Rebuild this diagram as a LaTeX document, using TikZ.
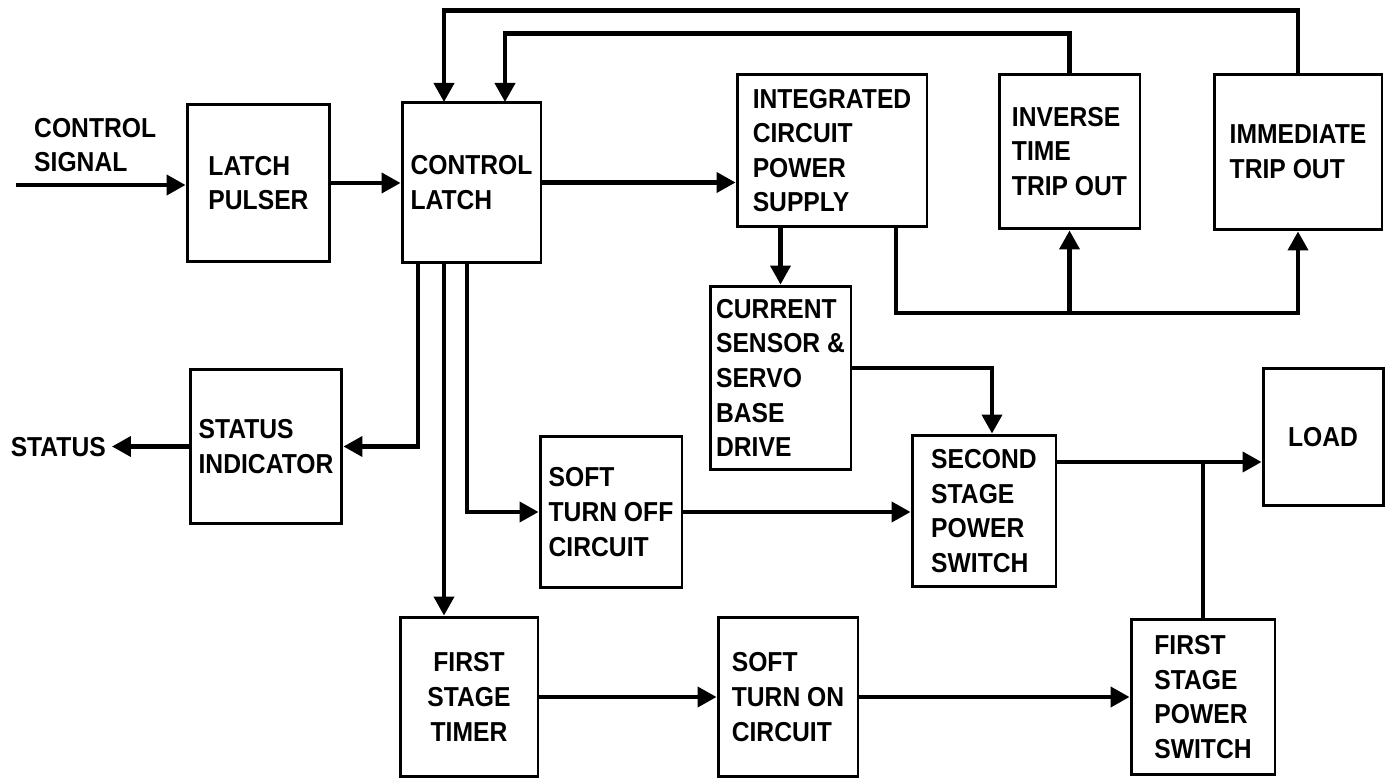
\documentclass[tikz,border=0pt]{standalone}
\usepackage{fontspec}
\setmainfont{Liberation Sans}[FakeStretch=0.9]
\usetikzlibrary{arrows.meta}
\newcommand{\blocktext}{\bfseries\fontsize{15.6}{19.7}\selectfont}

\begin{document}
\begin{tikzpicture}[x=0.02cm,y=-0.02cm,
  blk/.style={draw=black,line width=1.7pt,inner sep=0pt,align=left,font=\blocktext},
  arr/.style={black,line width=2.3pt,-{Triangle[length=0.38cm,width=0.4cm]}},
  wire/.style={black,line width=2.3pt}]
\useasboundingbox (0,0) rectangle (1389,780);

% top row
\node[blk,minimum width=2.86cm,minimum height=3.16cm] (pulser) at (258.5,183) {LATCH\\PULSER};
\node[blk,minimum width=2.78cm,minimum height=3.22cm] (latch) at (471.5,182.5) {CONTROL\\LATCH};
\node[blk,minimum width=3.8cm,minimum height=3.06cm] (icps) at (832,150.5) {INTEGRATED\\CIRCUIT\\POWER\\SUPPLY};
\node[blk,minimum width=2.82cm,minimum height=3.1cm] (inverse) at (1069.5,151.5) {INVERSE\\TIME\\TRIP OUT};
\node[blk,minimum width=3.36cm,minimum height=3.12cm] (immediate) at (1298,152) {IMMEDIATE\\TRIP OUT};

% middle
\node[blk,minimum width=2.82cm,minimum height=3.68cm] (sensor) at (780.5,378) {CURRENT\\SENSOR \&\\SERVO\\BASE\\DRIVE};
\node[blk,minimum width=3.04cm,minimum height=3.1cm] (status) at (266,446.5) {STATUS\\INDICATOR};
\node[blk,minimum width=2.84cm,minimum height=3.04cm] (turnoff) at (611,512) {SOFT\\TURN OFF\\CIRCUIT};
\node[blk,minimum width=2.88cm,minimum height=3.04cm] (second) at (984,511) {SECOND\\STAGE\\POWER\\SWITCH};
\node[blk,minimum width=2.4cm,minimum height=2.76cm] (load) at (1323,437) {LOAD};

% bottom row
\node[blk,align=center,minimum width=2.76cm,minimum height=3.2cm] (timer) at (469,697) {FIRST\\STAGE\\TIMER};
\node[blk,minimum width=2.8cm,minimum height=3.2cm] (turnon) at (788,697) {SOFT\\TURN ON\\CIRCUIT};
\node[blk,minimum width=2.88cm,minimum height=3.12cm] (fpswitch) at (1203,697) {FIRST\\STAGE\\POWER\\SWITCH};

% outside labels
\node[font=\blocktext,align=left,anchor=west] (sig) at (28,145) {CONTROL\\SIGNAL};
\node[font=\blocktext,anchor=east] (statlbl) at (112,447) {STATUS};
\coordinate (sigin) at (16,185);

\coordinate (in1) at (444,102);
\coordinate (in2) at (505,102);
\coordinate (bus) at (896,313);
\coordinate (join) at (1201,462);

\draw[arr] (sigin) -- (sigin -| pulser.west);
\draw[arr] (pulser.east) -- (pulser.east -| latch.west);
\draw[arr] (latch.east) -- (latch.east -| icps.west);

% trip out feedback
\draw[arr] (immediate.north) -- ++(0,-62) -| (in1);
\draw[arr] (inverse.north) -- ++(0,-39) -| (in2);

\draw[arr] (icps.south -| sensor.north) -- (sensor.north);
\draw[arr] (icps.south -| bus) -- (bus) -| (immediate.south);
\draw[arr] (bus -| inverse.south) -- (inverse.south);

% outputs of the latch
\draw[arr] (latch.south -| 418,0) |- (status.east);
\draw[arr] (latch.south -| in1) -- (timer.north -| in1);
\draw[arr] (latch.south -| 467,0) |- (turnoff.west);
\draw[arr] (status.west) -- (status.west -| statlbl.east);

\draw[arr] ([yshift=2mm]sensor.east) -| ([xshift=1.6mm]second.north);
\draw[arr] (turnoff.east) -- (turnoff.east -| second.west);
\draw[arr] (second.east |- join) -- (load.west |- join);
\draw[wire] (fpswitch.north) -- (fpswitch.north |- join);

\draw[arr] (timer) -- (turnon);
\draw[arr] (turnon) -- (fpswitch);

\end{tikzpicture}
\end{document}
